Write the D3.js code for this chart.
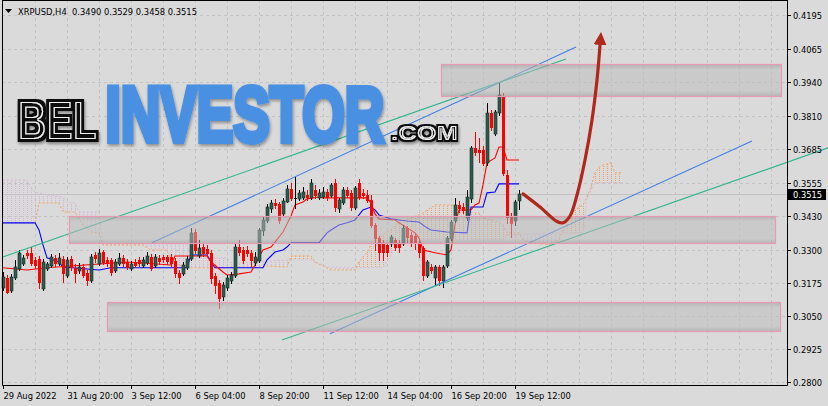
<!DOCTYPE html>
<html><head><meta charset="utf-8">
<script src="https://cdn.jsdelivr.net/npm/d3@7"></script>
<style>html,body{margin:0;padding:0;background:#dadada;overflow:hidden}svg{display:block}</style>
</head><body><svg id="c" width="828" height="406"></svg>
<script>
// ---------- DATA ----------
const symbolTitle = "XRPUSD,H4";
const ohlcText = "0.3490 0.3529 0.3458 0.3515";
const timeTickIndex = [0,16,32,48,64,80,96,112,128];
const timeTickLabels = ["29 Aug 2022","31 Aug 20:00","3 Sep 12:00","6 Sep 04:00","8 Sep 20:00","11 Sep 12:00","14 Sep 04:00","16 Sep 20:00","19 Sep 12:00"];
const priceTicks = [0.4195,0.4065,0.3940,0.3810,0.3685,0.3555,0.3430,0.3300,0.3175,0.3050,0.2925,0.2800];
const priceTickLabels = ["0.4195","0.4065","0.3940","0.3810","0.3685","0.3555","0.3430","0.3300","0.3175","0.3050","0.2925","0.2800"];

const open = [.3161,.3196,.3150,.3199,.3234,.3253,.3291,.3291,.3264,.3268,.3158,.3234,.3245,.3272,.3253,.3268,.3207,.3268,.3234,.3226,
.3237,.3215,.3188,.3283,.3253,.3294,.3264,.3264,.3226,.3253,.3272,.3256,.3234,.3256,.3264,.3245,.3256,.3275,.3245,.3272,
.3275,.3275,.3275,.3260,.3215,.3215,.3237,.3272,.3370,.3283,.3313,.3306,.3291,.3203,.3177,.3127,.3161,.3188,.3207,.3313,
.3302,.3302,.3291,.3256,.3264,.3378,.3416,.3462,.3481,.3477,.3443,.3488,.3534,.3500,.3500,.3503,.3511,.3503,.3530,.3503,
.3507,.3522,.3511,.3557,.3462,.3484,.3530,.3519,.3465,.3557,.3519,.3511,.3492,.3397,.3348,.3329,.3321,.3329,.3340,.3329,
.3329,.3386,.3359,.3355,.3329,.3310,.3207,.3237,.3199,.3237,.3188,.3245,.3348,.3416,.3473,.3465,.3427,.3500,.3690,.3682,
.3682,.3636,.3823,.3747,.3826,.3883,.3587,.3427,.3416,.3490];
const high = [.3218,.3207,.3211,.3264,.3302,.3283,.3302,.3313,.3275,.3279,.3268,.3256,.3287,.3283,.3291,.3279,.3275,.3279,.3249,.3253,
.3249,.3226,.3287,.3294,.3306,.3302,.3275,.3272,.3268,.3291,.3283,.3268,.3260,.3268,.3275,.3275,.3294,.3287,.3287,.3283,
.3283,.3283,.3287,.3272,.3226,.3256,.3279,.3386,.3382,.3340,.3329,.3321,.3302,.3215,.3188,.3180,.3207,.3218,.3329,.3340,
.3313,.3317,.3302,.3294,.3386,.3427,.3477,.3492,.3496,.3484,.3500,.3549,.3557,.3579,.3530,.3541,.3530,.3572,.3549,.3534,
.3541,.3534,.3557,.3572,.3500,.3541,.3541,.3530,.3545,.3572,.3534,.3530,.3511,.3405,.3355,.3340,.3329,.3359,.3348,.3340,
.3397,.3393,.3370,.3367,.3340,.3317,.3264,.3249,.3245,.3245,.3245,.3355,.3416,.3500,.3488,.3481,.3530,.3697,.3750,.3727,
.3697,.3861,.3834,.3834,.3937,.3899,.3606,.3443,.3492,.3529];
const low = [.3150,.3139,.3142,.3192,.3226,.3245,.3272,.3245,.3234,.3158,.3150,.3226,.3237,.3241,.3245,.3180,.3199,.3226,.3180,.3215,
.3199,.3169,.3180,.3256,.3245,.3249,.3241,.3207,.3218,.3245,.3241,.3230,.3226,.3237,.3241,.3237,.3249,.3226,.3237,.3249,
.3256,.3249,.3241,.3199,.3177,.3207,.3230,.3264,.3291,.3275,.3279,.3279,.3177,.3139,.3082,.3112,.3150,.3177,.3199,.3283,
.3253,.3279,.3241,.3245,.3256,.3359,.3408,.3446,.3462,.3405,.3435,.3484,.3492,.3462,.3492,.3496,.3492,.3496,.3500,.3496,
.3500,.3492,.3503,.3450,.3446,.3477,.3503,.3454,.3458,.3496,.3500,.3484,.3389,.3302,.3264,.3264,.3279,.3317,.3302,.3294,
.3321,.3332,.3317,.3306,.3275,.3188,.3199,.3215,.3169,.3169,.3161,.3237,.3340,.3408,.3446,.3443,.3416,.3484,.3663,.3636,
.3625,.3625,.3758,.3739,.3815,.3587,.3405,.3351,.3397,.3458];
const close = [.3199,.3142,.3199,.3237,.3291,.3272,.3283,.3253,.3245,.3180,.3256,.3249,.3275,.3253,.3272,.3215,.3264,.3237,.3215,.3237,
.3207,.3188,.3275,.3272,.3291,.3256,.3253,.3218,.3256,.3272,.3253,.3237,.3249,.3245,.3253,.3264,.3279,.3234,.3275,.3260,
.3268,.3260,.3253,.3215,.3199,.3245,.3268,.3367,.3302,.3310,.3291,.3291,.3196,.3169,.3120,.3169,.3196,.3207,.3313,.3294,
.3264,.3291,.3264,.3275,.3378,.3416,.3465,.3481,.3473,.3416,.3488,.3534,.3500,.3500,.3519,.3522,.3503,.3557,.3511,.3519,
.3522,.3503,.3549,.3465,.3492,.3530,.3511,.3465,.3538,.3503,.3511,.3492,.3397,.3348,.3294,.3294,.3294,.3351,.3313,.3313,
.3386,.3351,.3329,.3332,.3294,.3207,.3256,.3226,.3237,.3188,.3237,.3348,.3408,.3473,.3462,.3454,.3503,.3690,.3674,.3674,
.3633,.3823,.3769,.3826,.3891,.3595,.3427,.3405,.3484,.3515];

// Ichimoku lines: [bar index, price]
const tenkan = [[0,.3234],[6,.3226],[11,.3234],[31,.3256],[42,.3245],[43,.3279],[51,.3279],[52,.3256],[55,.3218],[56,.3207],
[59,.3211],[62,.3218],[63,.3245],[64,.3275],[65,.3302],[67,.3313],[68,.3332],[70,.3370],[72,.3431],[73,.3473],[75,.3484],
[76,.3496],[79,.3503],[80,.3500],[91,.3500],[92,.3481],[93,.3439],[94,.3420],[98,.3416],[99,.3405],[101,.3386],[103,.3367],
[104,.3348],[105,.3302],[108,.3291],[111,.3283],[112,.3302],[113,.3397],[114,.3454],[117,.3454],[118,.3473],[119,.3480],
[120,.3549],[121,.3633],[123,.3652],[124,.3693],[125,.3693],[126,.3644],[129,.3644]];
const kijun = [[0,.3405],[8,.3405],[9,.3378],[10,.3321],[11,.3272],[14,.3256],[15,.3237],[24,.3226],[27,.3234],[46,.3234],
[47,.3283],[51,.3283],[52,.3256],[53,.3234],[65,.3234],[66,.3264],[67,.3279],[68,.3294],[70,.3302],[71,.3313],[72,.3329],
[79,.3329],[81,.3367],[82,.3378],[84,.3397],[86,.3405],[88,.3416],[89,.3435],[90,.3454],[92,.3465],[93,.3454],[94,.3435],
[97,.3420],[99,.3416],[101,.3412],[104,.3408],[106,.3386],[107,.3378],[111,.3370],[116,.3367],[117,.3465],[120,.3465],
[121,.3519],[123,.3522],[124,.3553],[129,.3553]];
const senkouA = [[0,.3405],[8,.3405],[9,.3481],[14,.3481],[15,.3446],[18,.3446],[20,.3397],[22,.3370],[24,.3367],[25,.3321],
[35,.3321],[36,.3310],[37,.3302],[41,.3302],[42,.3256],[46,.3234],[56,.3234],[57,.3237],[65,.3237],[66,.3241],[71,.3237],
[72,.3279],[77,.3279],[78,.3256],[80,.3241],[82,.3226],[88,.3226],[89,.3256],[91,.3294],[92,.3321],[93,.3340],[95,.3359],
[97,.3378],[99,.3408],[104,.3435],[105,.3443],[108,.3473],[113,.3473],[114,.3443],[119,.3443],[120,.3424],[122,.3416],
[124,.3408],[125,.3397],[126,.3367],[129,.3367],[130,.3340],[132,.3329],[137,.3321],[139,.3340],[140,.3378],[142,.3424],
[143,.3454],[145,.3473],[146,.3503],[147,.3541],[148,.3595],[149,.3617],[150,.3625],[152,.3633],[153,.3595],[155,.3595]];
const senkouB = [[0,.3568],[6,.3568],[7,.3541],[8,.3522],[11,.3511],[15,.3503],[16,.3481],[18,.3481],[19,.3446],[24,.3446],
[25,.3321],[46,.3321],[47,.3272],[56,.3272],[57,.3253],[64,.3253],[65,.3260],[72,.3264],[77,.3264],[78,.3256],[80,.3245],
[81,.3237],[95,.3234],[97,.3283],[99,.3321],[102,.3340],[125,.3340],[126,.3359],[138,.3367],[145,.3367],[146,.3492],
[147,.3530],[148,.3557],[155,.3557]];

// Drawn objects in chart coordinates
const zoneStart = [109.5,16.5,26];
const zoneEnd = [194.5,193,194.25];
const zoneLow = [0.3887,0.3329,0.2994];
const zoneHigh = [0.4009,0.3431,0.3104];
const trendStart = [[37.25,.3329],[-0.25,.3274],[81.75,.2983],[69.75,.2960]];
const trendEnd = [[143.25,.4073],[140.75,.4028],[187.25,.3716],[206.25,.3690]];
const trendColor = ["#3f7fe6","#2fb48e","#3f7fe6","#2fb48e"];
const forecast = [[130,.3515],[134.25,.3465],[138.5,.3410],[140,.3405],[141.75,.3431],[143.5,.3511],[145.5,.3644],[147.25,.3796],[148.5,.3948],[149.3,.4089]];

// ---------- CHART ----------
const W=828,H=406,L=2,R=787,B=385;
const svg=d3.select('#c');
const x=d3.scaleLinear().domain([0,129]).range([3,519]);
const y=d3.scaleLinear().domain([0.2800,0.4195]).range([382,15]);
const defs=svg.append('defs');

svg.append('rect').attr('width',W).attr('height',H).attr('fill','#dadada');

// grid
const grid=svg.append('g').attr('stroke','#c4c4c4').attr('stroke-dasharray','3,3');
priceTicks.forEach(v=>{const yy=Math.round(y(v))+0.5;grid.append('line').attr('x1',L).attr('x2',R).attr('y1',yy).attr('y2',yy);});
for(let i=8;x(i)<R;i+=8){const xx=Math.round(x(i))+0.5;grid.append('line').attr('x1',xx).attr('x2',xx).attr('y1',0).attr('y2',B);}

// bid line
const lastC=close[close.length-1];
svg.append('line').attr('x1',L).attr('x2',R).attr('y1',Math.round(y(lastC))+0.5).attr('y2',Math.round(y(lastC))+0.5).attr('stroke','#c2c2c2');

// cloud hatch
function pat(id,color){
  const p=defs.append('pattern').attr('id',id).attr('patternUnits','userSpaceOnUse').attr('width',4).attr('height',2);
  p.append('rect').attr('x',3).attr('y',0).attr('width',1).attr('height',1).attr('fill',color);
}
pat('hA','#f0a060');pat('hB','#d4b4d4');
const belowL=d3.area().x(d=>x(d[0])).y0(d=>y(d[1])).y1(H);
const aboveL=d3.area().x(d=>x(d[0])).y0(0).y1(d=>y(d[1]));
defs.append('clipPath').attr('id','cA').append('path').attr('d',belowL(senkouA));
defs.append('clipPath').attr('id','cB').append('path').attr('d',belowL(senkouB));
svg.append('g').attr('clip-path','url(#cA)').append('path').attr('d',aboveL(senkouB)).attr('fill','url(#hA)');
svg.append('g').attr('clip-path','url(#cB)').append('path').attr('d',aboveL(senkouA)).attr('fill','url(#hB)');

const ln=d3.line().x(d=>x(d[0])).y(d=>y(d[1]));
svg.append('path').attr('d',ln(senkouB)).attr('fill','none').attr('stroke','#d8bcd8').attr('stroke-dasharray','2,2');
svg.append('path').attr('d',ln(senkouA)).attr('fill','none').attr('stroke','#f4a460').attr('stroke-dasharray','2,2');
svg.append('path').attr('d',ln(kijun)).attr('fill','none').attr('stroke','#0000ff').attr('stroke-width',1.1);
svg.append('path').attr('d',ln(tenkan)).attr('fill','none').attr('stroke','#ff0000').attr('stroke-width',1.1);

// candles
const cg=svg.append('g');
open.forEach((o,i)=>{
  const c=close[i],h=high[i],l=low[i];
  const xx=Math.round(x(i));
  const bull=c>o, doji=Math.abs(c-o)<1e-6;
  const col=(doji||bull)?'#000':'#ff0000';
  cg.append('line').attr('x1',xx+0.5).attr('x2',xx+0.5).attr('y1',Math.round(y(h))).attr('y2',Math.round(y(l))+1).attr('stroke',col);
  const top=Math.round(y(Math.max(o,c))),bot=Math.round(y(Math.min(o,c)));
  if(doji){cg.append('rect').attr('x',xx-1).attr('y',top).attr('width',3).attr('height',1).attr('fill','#000');}
  else cg.append('rect').attr('x',xx-1).attr('y',top).attr('width',3).attr('height',Math.max(1,bot-top+1))
    .attr('fill',bull?'#2f5a4c':'#ff0000').attr('stroke',bull?'#15302a':'none').attr('stroke-width',bull?0.6:0);
});

// trend lines
trendStart.forEach((s,k)=>{
  const e=trendEnd[k];
  svg.append('line').attr('x1',x(s[0])).attr('y1',y(s[1])).attr('x2',x(e[0])).attr('y2',y(e[1])).attr('stroke',trendColor[k]).attr('stroke-width',1.1);
});

// zones
const zg=defs.append('linearGradient').attr('id','zg').attr('x1',0).attr('y1',0).attr('x2',0).attr('y2',1);
[[0,'#9a9a9a',0.58],[0.18,'#bcbcbc',0.52],[0.82,'#bcbcbc',0.52],[1,'#9a9a9a',0.58]].forEach(s=>zg.append('stop').attr('offset',s[0]).attr('stop-color',s[1]).attr('stop-opacity',s[2]));
zoneStart.forEach((s,k)=>{
  const x0=Math.round(x(s))+0.5,x1=Math.round(x(zoneEnd[k]))+0.5,y0=Math.round(y(zoneHigh[k]))+0.5,y1=Math.round(y(zoneLow[k]))+0.5;
  svg.append('rect').attr('x',x0).attr('y',y0).attr('width',x1-x0).attr('height',y1-y0).attr('fill','url(#zg)').attr('stroke','#e79ab0').attr('stroke-width',1.2);
});

// forecast arrow
const mk=defs.append('marker').attr('id','ah').attr('viewBox','0 -7 14 14').attr('refX',2).attr('refY',0)
  .attr('markerWidth',14).attr('markerHeight',14).attr('markerUnits','userSpaceOnUse').attr('orient','auto');
mk.append('path').attr('d','M0,-6.5L13,0L0,6.5Z').attr('fill','#b0281c');
svg.append('path').attr('d',d3.line().x(d=>x(d[0])).y(d=>y(d[1])).curve(d3.curveCatmullRom)(forecast))
  .attr('fill','none').attr('stroke','#b0281c').attr('stroke-width',3.2).attr('stroke-linecap','round').attr('marker-end','url(#ah)');

// watermark
const wmFont="'Liberation Sans Narrow','Liberation Sans',Arial,sans-serif";
function wmText(txt,tx,ty,fs,target){
  const t=svg.append('text').attr('x',0).attr('y',0).attr('font-family',wmFont).attr('font-weight','bold').attr('font-size',fs).text(txt);
  const w=t.node().getComputedTextLength()||target;
  const sx=target/w;
  t.attr('transform',`translate(${tx},${ty}) scale(${sx},1)`);
  return {t,sx};
}
function outlineFilter(id,r,ir,sx){
  const f=defs.append('filter').attr('id',id).attr('x','-5%').attr('y','-12%').attr('width','112%').attr('height','130%');
  f.append('feMorphology').attr('in','SourceAlpha').attr('operator','dilate').attr('radius',`${r/sx} ${r}`).attr('result','dil');
  f.append('feGaussianBlur').attr('in','dil').attr('stdDeviation',`${1.5/sx} 1.5`).attr('result','bl');
  f.append('feOffset').attr('in','bl').attr('dx',1/sx).attr('dy',2).attr('result','off');
  f.append('feComponentTransfer').attr('in','off').attr('result','shadow').append('feFuncA').attr('type','linear').attr('slope',0.4);
  f.append('feFlood').attr('flood-color','#111').attr('result','blk');
  f.append('feComposite').attr('in','blk').attr('in2','dil').attr('operator','in').attr('result','outer');
  f.append('feMorphology').attr('in','SourceAlpha').attr('operator','erode').attr('radius',`${ir/sx} ${ir}`).attr('result','ero');
  f.append('feComposite').attr('in','SourceAlpha').attr('in2','ero').attr('operator','out').attr('result','ring');
  f.append('feFlood').attr('flood-color','#f2f2f2').attr('result','wht');
  f.append('feComposite').attr('in','wht').attr('in2','ring').attr('operator','in').attr('result','wring');
  const m=f.append('feMerge');
  ['shadow','outer','wring'].forEach(n=>m.append('feMergeNode').attr('in',n));
}
const bel=wmText('BEL',18,139,53,79);
outlineFilter('olBig',3,0.9,bel.sx);
bel.t.attr('fill','#111').attr('filter','url(#olBig)');

const inv=wmText('INVESTOR',105.5,140.5,78,279);
const sf=defs.append('filter').attr('id','sh').attr('x','-1.5%').attr('y','-10%').attr('width','103%').attr('height','125%');
sf.append('feDropShadow').attr('dx',1/inv.sx).attr('dy',2).attr('stdDeviation',`${1.5/inv.sx} 1.5`).attr('flood-color','#000').attr('flood-opacity',0.35);
inv.t.attr('fill','#4a90e2').attr('stroke','#4a90e2').attr('stroke-width',5).attr('vector-effect','non-scaling-stroke')
  .attr('stroke-linejoin','miter').attr('filter','url(#sh)');

const com=wmText('.COM',391,139.5,21,67);
outlineFilter('olSmall',1.6,0.6,com.sx);
com.t.attr('fill','#111').attr('filter','url(#olSmall)');

// frame
const fr=svg.append('g').attr('stroke','#000').attr('fill','none');
fr.append('path').attr('d',`M${L+0.5},0 V${B+0.5} H${R+0.5} V0`);
fr.append('line').attr('x1',L).attr('x2',R+1).attr('y1',0.5).attr('y2',0.5);

// price axis
const ax=svg.append('g').attr('font-family','DejaVu Sans, sans-serif').attr('font-size',8.3);
priceTicks.forEach((v,k)=>{
  const yy=Math.round(y(v))+0.5;
  ax.append('line').attr('x1',R).attr('x2',R+4).attr('y1',yy).attr('y2',yy).attr('stroke','#000');
  ax.append('text').attr('x',R+6).attr('y',yy+3).attr('fill','#000').text(priceTickLabels[k]);
});
const cy=Math.round(y(lastC))+0.5;
ax.append('rect').attr('x',R+1).attr('y',cy-5.5).attr('width',38).attr('height',11).attr('fill','#000');
ax.append('text').attr('x',R+6).attr('y',cy+3).attr('fill','#fff').text(lastC.toFixed(4));

// time axis
timeTickIndex.forEach((i,k)=>{
  const xx=Math.round(x(i))+0.5;
  ax.append('line').attr('x1',xx).attr('x2',xx).attr('y1',B).attr('y2',B+4).attr('stroke','#000');
  ax.append('text').attr('x',xx).attr('y',399).attr('fill','#000').text(timeTickLabels[k]);
});

// title
const tg=svg.append('g').attr('font-family','DejaVu Sans, sans-serif').attr('font-size',8.8).attr('fill','#000');
tg.append('path').attr('d','M5,9 L12,9 L8.5,13 Z').attr('fill','#000');
tg.append('text').attr('x',18).attr('y',15).attr('textLength',179).attr('lengthAdjust','spacingAndGlyphs').attr('xml:space','preserve').text(symbolTitle+'  '+ohlcText);
</script></body></html>
